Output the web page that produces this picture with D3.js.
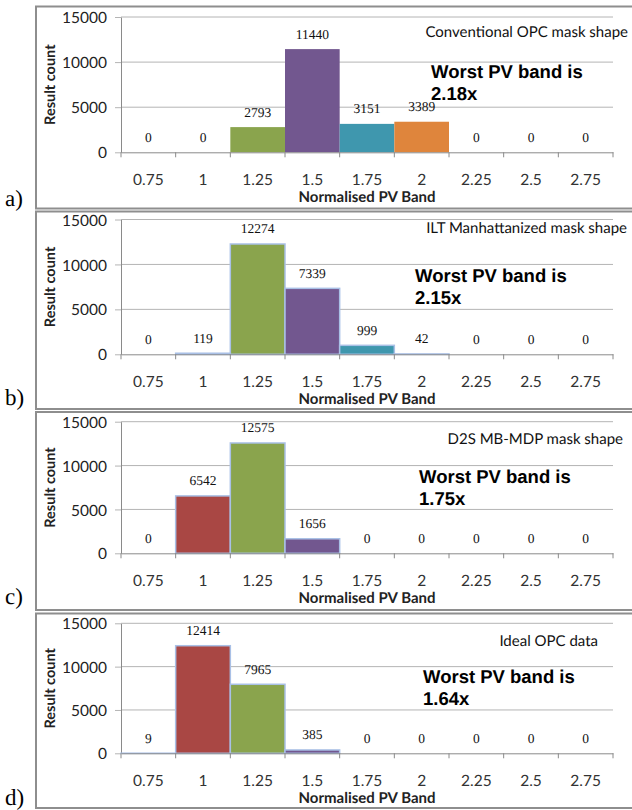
<!DOCTYPE html>
<html lang="en">
<head>
    <meta charset="UTF-8">
    <title>Normalised PV Band histograms</title>
    <style>
        body, html {
            margin: 0;
            padding: 0;
            background-color: #ffffff;
        }
        svg { display: block; }
        text { text-rendering: geometricPrecision; }
        .tick-y text { font-family: Lato, "Open Sans", sans-serif; font-size: 15.5px; fill: #222; }
        .tick-x text { font-family: Lato, "Open Sans", sans-serif; font-size: 15.5px; fill: #333; }
        .value-label { font-family: "Liberation Serif", "DejaVu Serif", serif; font-size: 13.5px; }
        .axis-title { font-family: Lato, "Open Sans", sans-serif; font-size: 15px; font-weight: bold; fill: #222; }
        .panel-title { font-family: Lato, "Open Sans", sans-serif; font-size: 15px; fill: #111; }
        .worst { font-family: "Liberation Sans", Arial, sans-serif; font-size: 18.5px; font-weight: bold; fill: #000; }
        .letter { font-family: "Liberation Serif", "DejaVu Serif", serif; font-size: 23px; fill: #000; }
    </style>
</head>
<body>
    <div id="chart"></div>

    <script src="https://d3js.org/d3.v7.min.js"></script>
    <script>
        // Data
        const categories = ["0.75", "1", "1.25", "1.5", "1.75", "2", "2.25", "2.5", "2.75"];
        const conventionalCounts = [0, 0, 2793, 11440, 3151, 3389, 0, 0, 0];
        const iltCounts = [0, 119, 12274, 7339, 999, 42, 0, 0, 0];
        const d2sCounts = [0, 6542, 12575, 1656, 0, 0, 0, 0, 0];
        const idealCounts = [9, 12414, 7965, 385, 0, 0, 0, 0, 0];
        const panelTitles = ["Conventional OPC mask shape", "ILT Manhattanized mask shape", "D2S MB-MDP mask shape", "Ideal OPC data"];
        const worstBands = ["2.18x", "2.15x", "1.75x", "1.64x"];
        const panelLetters = ["a)", "b)", "c)", "d)"];
        const yTicks = [0, 5000, 10000, 15000];
        const yMax = 15000;

        // One colour per category (Excel-style palette)
        const barColors = ["#4f81bd", "#a94744", "#8aa44d", "#72578f", "#3f97ae", "#df853c", "#4f81bd", "#a94744", "#8aa44d"];

        // Layout of each panel in page pixels
        const layout = [
            { boxTop: 6.5,  boxBottom: 208.5, yTop: 17,    y0: 152.3, titleY: 37,  titleRight: 628, worstX: 431, worstY: 78,  letterY: 206, outline: false },
            { boxTop: 211.5, boxBottom: 409,  yTop: 219.5, y0: 354.3, titleY: 233, titleRight: 627, worstX: 415, worstY: 282, letterY: 405, outline: true },
            { boxTop: 412,  boxBottom: 610,   yTop: 421.7, y0: 553.3, titleY: 444, titleRight: 623, worstX: 419, worstY: 483, letterY: 604, outline: true },
            { boxTop: 613.5, boxBottom: 808,  yTop: 623.3, y0: 753.3, titleY: 646, titleRight: 598, worstX: 423, worstY: 683, letterY: 805, outline: true }
        ];
        const series = [conventionalCounts, iltCounts, d2sCounts, idealCounts];

        const plotLeft = 121, plotRight = 613;

        const svg = d3.select("#chart").append("svg")
            .attr("width", 632)
            .attr("height", 810);

        const x = d3.scaleBand()
            .domain(categories)
            .range([plotLeft, plotRight])
            .padding(0);

        series.forEach((counts, i) => {
            const L = layout[i];
            const g = svg.append("g");

            // panel frame (right edge runs off the page)
            g.append("rect")
                .attr("x", 36)
                .attr("y", L.boxTop)
                .attr("width", 640)
                .attr("height", L.boxBottom - L.boxTop)
                .attr("fill", "none")
                .attr("stroke", "#8e8e8e")
                .attr("stroke-width", 2);

            const y = d3.scaleLinear()
                .domain([0, yMax])
                .range([L.y0, L.yTop]);

            // gridlines
            g.append("g")
                .selectAll("line")
                .data(yTicks.filter(t => t > 0))
                .join("line")
                .attr("x1", plotLeft)
                .attr("x2", plotRight)
                .attr("y1", d => y(d))
                .attr("y2", d => y(d))
                .attr("stroke", "#b4b4b4")
                .attr("stroke-width", 1);

            // y axis
            const yAxis = g.append("g")
                .attr("class", "tick-y")
                .attr("transform", `translate(${plotLeft},0)`)
                .call(d3.axisLeft(y).tickValues(yTicks).tickSize(6).tickSizeOuter(0).tickPadding(8).tickFormat(d3.format("d")));
            yAxis.selectAll("text").attr("dy", "0.36em");
            yAxis.select(".domain").attr("stroke", "#8a8a8a");
            yAxis.selectAll(".tick line").attr("stroke", "#b4b4b4");

            // bars
            g.append("g")
                .selectAll("rect")
                .data(categories.map((c, k) => ({ cat: c, value: counts[k], color: barColors[k] })).filter(d => d.value > 0))
                .join("rect")
                .attr("x", d => x(d.cat))
                .attr("width", x.bandwidth())
                .attr("y", d => y(d.value))
                .attr("height", d => L.y0 - y(d.value))
                .attr("fill", d => d.color)
                .attr("stroke", L.outline ? "#a9c0e6" : "none")
                .attr("stroke-width", 1.5);

            // x axis: labels under each category, ticks on category boundaries
            const xAxis = g.append("g")
                .attr("class", "tick-x")
                .attr("transform", `translate(0,${L.y0})`)
                .call(d3.axisBottom(x).tickSize(0).tickSizeOuter(0).tickPadding(22));
            xAxis.select(".domain").attr("stroke", "#8a8a8a");

            g.append("g")
                .selectAll("line")
                .data(d3.range(categories.length + 1))
                .join("line")
                .attr("x1", k => plotLeft + k * x.step())
                .attr("x2", k => plotLeft + k * x.step())
                .attr("y1", L.y0)
                .attr("y2", L.y0 + 5)
                .attr("stroke", "#8a8a8a");

            // value labels
            g.append("g")
                .selectAll("text")
                .data(categories.map((c, k) => ({ cat: c, value: counts[k] })))
                .join("text")
                .attr("class", "value-label")
                .attr("fill", "#111111")
                .attr("text-anchor", "middle")
                .attr("x", d => x(d.cat) + x.bandwidth() / 2)
                .attr("y", d => y(d.value) - 10.5)
                .text(d => d.value);

            // axis titles
            g.append("text")
                .attr("class", "axis-title")
                .attr("text-anchor", "middle")
                .attr("x", (plotLeft + plotRight) / 2)
                .attr("y", L.y0 + 50)
                .text("Normalised PV Band");

            g.append("text")
                .attr("class", "axis-title")
                .attr("text-anchor", "middle")
                .attr("transform", `translate(55,${(L.y0 + L.yTop) / 2}) rotate(-90)`)
                .style("font-size", "14.5px")
                .text("Result count");

            // panel title and annotation
            g.append("text")
                .attr("class", "panel-title")
                .attr("text-anchor", "end")
                .attr("x", L.titleRight)
                .attr("y", L.titleY)
                .text(panelTitles[i]);

            g.append("text")
                .attr("class", "worst")
                .attr("x", L.worstX)
                .attr("y", L.worstY)
                .text("Worst PV band is");

            g.append("text")
                .attr("class", "worst")
                .attr("x", L.worstX)
                .attr("y", L.worstY + 22)
                .text(worstBands[i]);

            g.append("text")
                .attr("class", "letter")
                .attr("x", 5)
                .attr("y", L.letterY)
                .text(panelLetters[i]);
        });
    </script>
</body>
</html>
